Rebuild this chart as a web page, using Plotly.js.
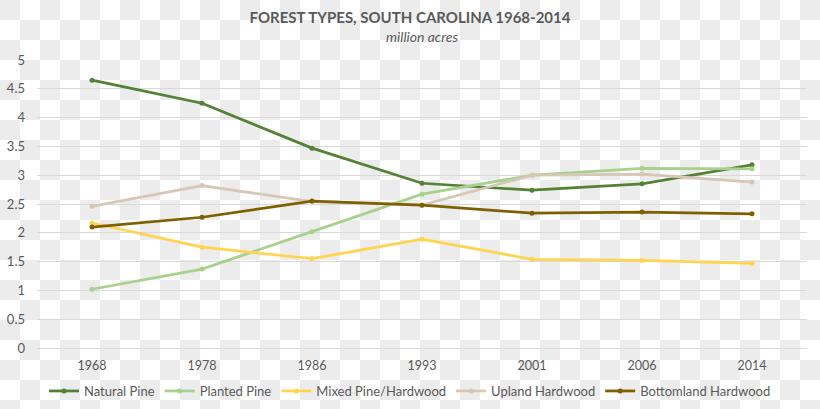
<!DOCTYPE html>
<html>
<head>
<meta charset="utf-8">
<script src="https://cdn.plot.ly/plotly-3.0.1.min.js"></script>
<style>
html, body { margin: 0; padding: 0; }
body {
  width: 820px; height: 409px; overflow: hidden;
  background: repeating-conic-gradient(#ffffff 0 25%, #ececec 0 50%) 0 0 / 40px 40px;
}
#chart { width: 820px; height: 409px; }
</style>
</head>
<body>
<div id="chart"></div>
<script>
const years = ['1968', '1978', '1986', '1993', '2001', '2006', '2014'];
const naturalPine = [4.65, 4.25, 3.47, 2.86, 2.74, 2.85, 3.18];
const plantedPine = [1.02, 1.37, 2.02, 2.67, 3.00, 3.12, 3.11];
const mixedPineHardwood = [2.17, 1.75, 1.55, 1.89, 1.54, 1.52, 1.47];
const uplandHardwood = [2.46, 2.82, 2.54, 2.48, 3.00, 3.02, 2.88];
const bottomlandHardwood = [2.10, 2.27, 2.55, 2.48, 2.34, 2.36, 2.33];

const seriesNames = ['Natural Pine', 'Planted Pine', 'Mixed Pine/Hardwood', 'Upland Hardwood', 'Bottomland Hardwood'];
const seriesValues = [naturalPine, plantedPine, mixedPineHardwood, uplandHardwood, bottomlandHardwood];
const seriesColors = ['#548235', '#a9d18e', '#ffd54f', '#d6c7b6', '#7f6000'];

const FONT = 'Lato, "Open Sans", sans-serif';

const traces = seriesNames.map((name, i) => ({
  type: 'scatter',
  mode: 'lines+markers',
  name: name,
  x: years,
  y: seriesValues[i],
  line: { color: seriesColors[i], width: 2.75 },
  marker: { color: seriesColors[i], size: 5, symbol: 'circle' }
}));

const layout = {
  width: 820,
  height: 409,
  paper_bgcolor: 'rgba(0,0,0,0)',
  plot_bgcolor: 'rgba(0,0,0,0)',
  margin: { l: 37, r: 13, t: 60, b: 61, autoexpand: false },
  font: { family: FONT, color: '#595959', size: 12 },
  title: {
    text: '<b>FOREST TYPES, SOUTH CAROLINA 1968-2014</b>',
    font: { family: FONT, size: 15, color: '#595959' },
    x: 0.5, xanchor: 'center',
    y: 1 - 18 / 409, yanchor: 'middle', yref: 'container'
  },
  annotations: [{
    text: '<i>million acres</i>',
    xref: 'paper', yref: 'paper',
    x: 0.5, xanchor: 'center',
    y: 1 + 23 / 288, yanchor: 'middle',
    showarrow: false,
    font: { family: FONT, size: 14, color: '#595959' }
  }],
  xaxis: {
    type: 'category',
    range: [-0.5, 6.5],
    showgrid: false,
    zeroline: false,
    showline: false,
    ticks: '',
    ticklabelstandoff: 8,
    tickfont: { family: FONT, size: 12.5, color: '#595959' },
    fixedrange: true
  },
  yaxis: {
    range: [0, 5],
    dtick: 0.5,
    tick0: 0,
    showgrid: true,
    gridcolor: '#d9d9d9',
    gridwidth: 1,
    zeroline: true,
    zerolinecolor: '#d9d9d9',
    zerolinewidth: 1,
    showline: false,
    ticks: '',
    ticklabelstandoff: 11,
    tickfont: { family: FONT, size: 13, color: '#595959' },
    fixedrange: true
  },
  showlegend: true,
  legend: {
    orientation: 'h',
    x: 0.5, xanchor: 'center', xref: 'container',
    y: 18 / 409, yanchor: 'middle', yref: 'container',
    font: { family: FONT, size: 13, color: '#595959' },
    bgcolor: 'rgba(0,0,0,0)',
    itemwidth: 30,
    tracegroupgap: 0
  }
};

Plotly.newPlot('chart', traces, layout, { displayModeBar: false, staticPlot: true });
</script>
</body>
</html>
